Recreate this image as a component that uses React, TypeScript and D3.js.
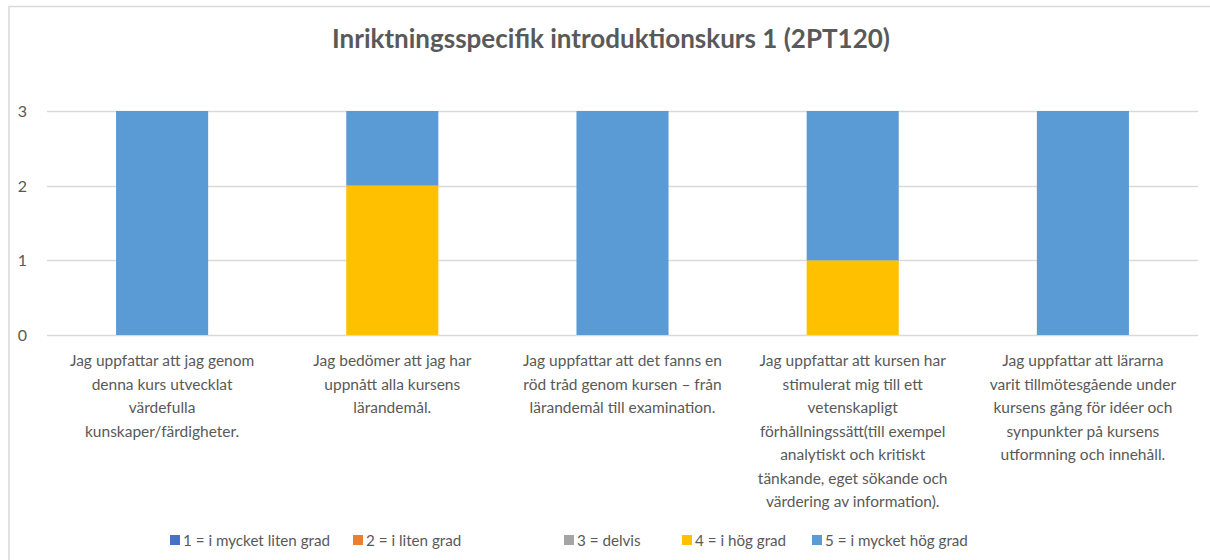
import React, { useEffect, useRef } from 'react';
import * as d3 from 'd3';

const title = 'Inriktningsspecifik introduktionskurs 1 (2PT120)';

const categories = [
  ['Jag uppfattar att jag genom', 'denna kurs utvecklat', 'värdefulla', 'kunskaper/färdigheter.'],
  ['Jag bedömer att jag har', 'uppnått alla kursens', 'lärandemål.'],
  ['Jag uppfattar att det fanns en', 'röd tråd genom kursen – från', 'lärandemål till examination.'],
  ['Jag uppfattar att kursen har', 'stimulerat mig till ett', 'vetenskapligt', 'förhållningssätt(till exempel', 'analytiskt och kritiskt', 'tänkande, eget sökande och', 'värdering av information).'],
  ['Jag uppfattar att lärarna', 'varit tillmötesgående under', 'kursens gång för idéer och', 'synpunkter på kursens', 'utformning och innehåll.'],
];

const seriesNames = ['1 = i mycket liten grad', '2 = i liten grad', '3 = delvis', '4 = i hög grad', '5 = i mycket hög grad'];
const seriesColors = ['#4472C4', '#ED7D31', '#A5A5A5', '#FFC000', '#5B9BD5'];

const s1 = [0, 0, 0, 0, 0];
const s2 = [0, 0, 0, 0, 0];
const s3 = [0, 0, 0, 0, 0];
const s4 = [0, 2, 0, 1, 0];
const s5 = [3, 1, 3, 2, 3];

const yTicks = [0, 1, 2, 3];

const App = () => {
  const svgRef = useRef(null);

  useEffect(() => {
    const width = 1210;
    const height = 560;
    const margin = { top: 111, right: 12, bottom: 225, left: 47 };
    const font = 'Lato, "Noto Sans", sans-serif';
    const grey = '#595959';

    const svg = d3.select(svgRef.current);
    svg.selectAll('*').remove();

    // chart frame
    svg.append('rect')
      .attr('x', 9)
      .attr('y', 6.5)
      .attr('width', width + 20)
      .attr('height', height + 20)
      .attr('fill', 'white')
      .attr('stroke', '#D9D9D9')
      .attr('stroke-width', 1.5);

    svg.append('text')
      .attr('x', 611)
      .attr('y', 48)
      .attr('text-anchor', 'middle')
      .attr('font-family', font)
      .attr('font-size', 26)
      .attr('font-weight', 'bold')
      .attr('fill', grey)
      .text(title);

    const idx = categories.map((_, i) => i);
    const xScale = d3.scaleBand<number>()
      .domain(idx)
      .range([margin.left, width - margin.right])
      .paddingInner(0.6)
      .paddingOuter(0.3);

    const yScale = d3.scaleLinear()
      .domain([0, 3])
      .range([height - margin.bottom, margin.top]);

    // gridlines
    svg.append('g')
      .selectAll('line')
      .data(yTicks)
      .join('line')
      .attr('x1', margin.left)
      .attr('x2', width - margin.right)
      .attr('y1', d => Math.round(yScale(d)) + 0.5)
      .attr('y2', d => Math.round(yScale(d)) + 0.5)
      .attr('stroke', '#D9D9D9')
      .attr('stroke-width', 1.5);

    svg.append('g')
      .selectAll('text')
      .data(yTicks)
      .join('text')
      .attr('x', 27)
      .attr('y', d => yScale(d) + 6)
      .attr('text-anchor', 'end')
      .attr('font-family', font)
      .attr('font-size', 16)
      .attr('fill', grey)
      .text(d => String(d));

    // stacked bars
    const table = idx.map(i => ({ i, a: s1[i], b: s2[i], c: s3[i], d: s4[i], e: s5[i] }));
    const keys = ['a', 'b', 'c', 'd', 'e'];
    const stacked = d3.stack<any>().keys(keys)(table);

    stacked.forEach((layer, k) => {
      svg.append('g')
        .selectAll('rect')
        .data(layer.filter(p => p[1] - p[0] > 0))
        .join('rect')
        .attr('x', p => xScale(p.data.i)!)
        .attr('width', xScale.bandwidth())
        .attr('y', p => yScale(p[1]))
        .attr('height', p => yScale(p[0]) - yScale(p[1]))
        .attr('fill', seriesColors[k]);
    });

    // category labels
    const lineH = 23.5;
    categories.forEach((lines, i) => {
      const cx = xScale(i)! + xScale.bandwidth() / 2;
      const t = svg.append('text')
        .attr('text-anchor', 'middle')
        .attr('font-family', font)
        .attr('font-size', 15.5)
        .attr('fill', grey);
      lines.forEach((ln, j) => {
        t.append('tspan')
          .attr('x', cx)
          .attr('y', 366 + j * lineH)
          .text(ln);
      });
    });

    // legend
    const legendX = [170, 353, 564, 682, 812];
    const legend = svg.append('g');
    seriesNames.forEach((name, k) => {
      legend.append('rect')
        .attr('x', legendX[k])
        .attr('y', 535)
        .attr('width', 10)
        .attr('height', 10)
        .attr('fill', seriesColors[k]);
      legend.append('text')
        .attr('x', legendX[k] + 13)
        .attr('y', 546)
        .attr('font-family', font)
        .attr('font-size', 15.2)
        .attr('fill', grey)
        .text(name);
    });
  }, []);

  return (
    <svg
      ref={svgRef}
      width={1210}
      height={560}
      style={{ position: 'absolute', left: 0, top: 0 }}
    ></svg>
  );
};

export default App;
